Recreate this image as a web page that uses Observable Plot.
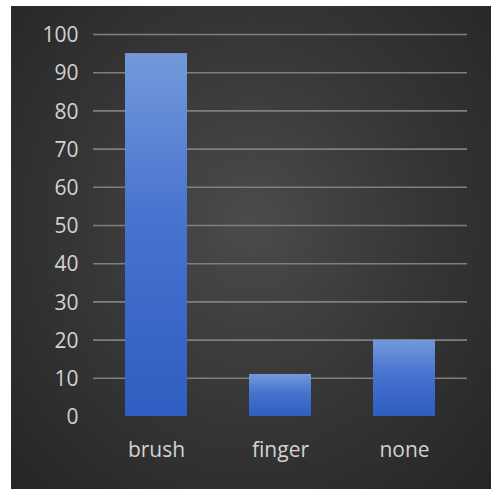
<!DOCTYPE html>
<html>
<head>
<meta charset="utf-8">
<script src="https://cdn.jsdelivr.net/npm/d3@7"></script>
<script src="https://cdn.jsdelivr.net/npm/@observablehq/plot@0.6"></script>
<style>
  html, body { margin: 0; padding: 0; background: #ffffff; }
  #panel {
    position: absolute; left: 11px; top: 6px; width: 480px; height: 483px;
    background: radial-gradient(ellipse at 50% 45%, #4b4b4b 0%, #363636 50%, #252525 100%);
  }
  #panel svg { background: transparent; display: block; }
</style>
</head>
<body>
<div id="panel"></div>
<script>
// Tooth-cleaning method counts
const categories = ["brush", "finger", "none"];
const counts = [95, 11, 20];
const yTicks = [0, 10, 20, 30, 40, 50, 60, 70, 80, 90, 100];

const rows = categories.map((c, i) => ({category: c, count: counts[i]}));

const chart = Plot.plot({
  width: 480,
  height: 483,
  marginLeft: 82,
  marginRight: 24,
  marginTop: 28,
  marginBottom: 73,
  style: {background: "transparent", fontFamily: "'Open Sans', sans-serif", color: "#d2d2d2"},
  x: {domain: categories, paddingInner: 0.5, paddingOuter: 0.25, label: null},
  y: {domain: [0, 100], ticks: yTicks, label: null},
  marks: [
    Plot.ruleY(yTicks.filter(t => t > 0), {stroke: "#7f7f7f", strokeWidth: 1.6}),
    Plot.barY(rows, {x: "category", y: "count", fill: "url(#barGradient)"}),
    Plot.axisY({ticks: yTicks, tickSize: 0, tickPadding: 15, fontSize: 21, fill: "#d2d2d2", dy: 1}),
    Plot.axisX({tickSize: 0, tickPadding: 26, fontSize: 21, fill: "#d2d2d2"})
  ]
});

// Vertical blue gradient for bars, lighter at the top
const defs = d3.select(chart).insert("defs", ":first-child");
const grad = defs.append("linearGradient")
  .attr("id", "barGradient").attr("x1", 0).attr("y1", 0).attr("x2", 0).attr("y2", 1);
grad.append("stop").attr("offset", "0%").attr("stop-color", "#7399da");
grad.append("stop").attr("offset", "45%").attr("stop-color", "#4873cf");
grad.append("stop").attr("offset", "100%").attr("stop-color", "#2e5ec1");

document.getElementById("panel").appendChild(chart);
</script>
</body>
</html>
